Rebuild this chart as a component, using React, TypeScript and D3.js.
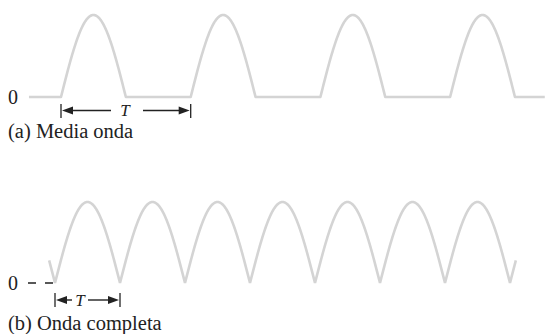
import * as d3 from "d3";

// (a) half-wave: pulse starts in units of T, and the span drawn
const halfWavePulses = [0, 1, 2, 3];
const halfWaveSpan = [-0.247, 3.73];
// (b) full-wave: troughs in units of T, span drawn
const fullWaveTroughs = [0, 1, 2, 3, 4, 5, 6, 7];
const fullWaveSpan = [-0.09, 7.09];
const amplitude = 1;

const labels = { a: "(a) Media onda", b: "(b) Onda completa", zero: "0", T: "T" };

const W = 545;
const H = 334;
const waveColor = "#d4d4d4";
const inkColor = "#222";

function halfWaveValue(t: number) {
  const k = Math.floor(t);
  const p = t - k;
  if (!halfWavePulses.includes(k) || p > 0.5) return 0;
  return amplitude * Math.sin(2 * Math.PI * p);
}

function fullWaveValue(t: number) {
  return amplitude * Math.abs(Math.sin(Math.PI * t));
}

function sample(span: number[], step: number) {
  const pts: number[] = [];
  for (let t = span[0]; t < span[1]; t += step) pts.push(t);
  pts.push(span[1]);
  return pts;
}

function Arrow({ x1, x2, y }: { x1: number; x2: number; y: number }) {
  // arrow from x1 to x2, head at x2
  const dir = x2 > x1 ? 1 : -1;
  const hl = 11;
  const hw = 4;
  return (
    <g>
      <line x1={x1} x2={x2 - dir * hl + dir} y1={y} y2={y} stroke={inkColor} strokeWidth={1.4} />
      <path
        d={`M${x2},${y} L${x2 - dir * hl},${y - hw} L${x2 - dir * hl},${y + hw} Z`}
        fill={inkColor}
      />
    </g>
  );
}

export default function App() {
  // (a) scales
  const xa = d3.scaleLinear().domain([0, 1]).range([61, 190.7]);
  const ya = d3.scaleLinear().domain([0, amplitude]).range([97, 15]);
  const ptsA = sample(halfWaveSpan, 0.005);
  halfWavePulses.forEach((k) => {
    ptsA.push(k, k + 0.5);
  });
  ptsA.sort((a, b) => a - b);
  const lineA = d3
    .line<number>()
    .x((t) => xa(t))
    .y((t) => ya(halfWaveValue(t)));

  // (b) scales
  const xb = d3.scaleLinear().domain([0, 1]).range([55, 120]);
  const yb = d3.scaleLinear().domain([0, amplitude]).range([283, 202]);
  const ptsB = sample(fullWaveSpan, 0.005);
  fullWaveTroughs.forEach((k) => ptsB.push(k));
  ptsB.sort((a, b) => a - b);
  const lineB = d3
    .line<number>()
    .x((t) => xb(t))
    .y((t) => yb(fullWaveValue(t)));

  const font = "'Liberation Serif', 'Times New Roman', serif";

  return (
    <svg
      width={W}
      height={H}
      style={{ position: "absolute", left: 0, top: 0, background: "#fff" }}
      fontFamily={font}
    >
      {/* (a) half wave */}
      <path d={lineA(ptsA) ?? ""} fill="none" stroke={waveColor} strokeWidth={2.6} strokeLinejoin="round" />
      <text x={8} y={104} fontSize={20} fill={inkColor}>{labels.zero}</text>
      <line x1={xa(0)} x2={xa(0)} y1={104} y2={118} stroke={inkColor} strokeWidth={1.3} />
      <line x1={xa(1)} x2={xa(1)} y1={104} y2={118} stroke={inkColor} strokeWidth={1.3} />
      <Arrow x1={111} x2={xa(0) + 1} y={110.5} />
      <Arrow x1={143} x2={xa(1) - 1} y={110.5} />
      <text x={125} y={116} fontSize={17} fontStyle="italic" textAnchor="middle" fill={inkColor}>
        {labels.T}
      </text>
      <text x={8} y={138} fontSize={20.5} fill={inkColor}>{labels.a}</text>

      {/* (b) full wave */}
      <path d={lineB(ptsB) ?? ""} fill="none" stroke={waveColor} strokeWidth={2.6} strokeLinejoin="miter" />
      <text x={8} y={290} fontSize={20} fill={inkColor}>{labels.zero}</text>
      <line x1={28} x2={xb(0)} y1={yb(0)} y2={yb(0)} stroke={inkColor} strokeWidth={1.4} strokeDasharray="8 9" />
      <line x1={xb(0)} x2={xb(0)} y1={293} y2={307} stroke={inkColor} strokeWidth={1.3} />
      <line x1={xb(1)} x2={xb(1)} y1={293} y2={307} stroke={inkColor} strokeWidth={1.3} />
      <Arrow x1={72} x2={xb(0) + 1} y={300} />
      <Arrow x1={88} x2={xb(1) - 1} y={300} />
      <text x={80} y={306} fontSize={17} fontStyle="italic" textAnchor="middle" fill={inkColor}>
        {labels.T}
      </text>
      <text x={8} y={330} fontSize={20.5} fill={inkColor}>{labels.b}</text>
    </svg>
  );
}
